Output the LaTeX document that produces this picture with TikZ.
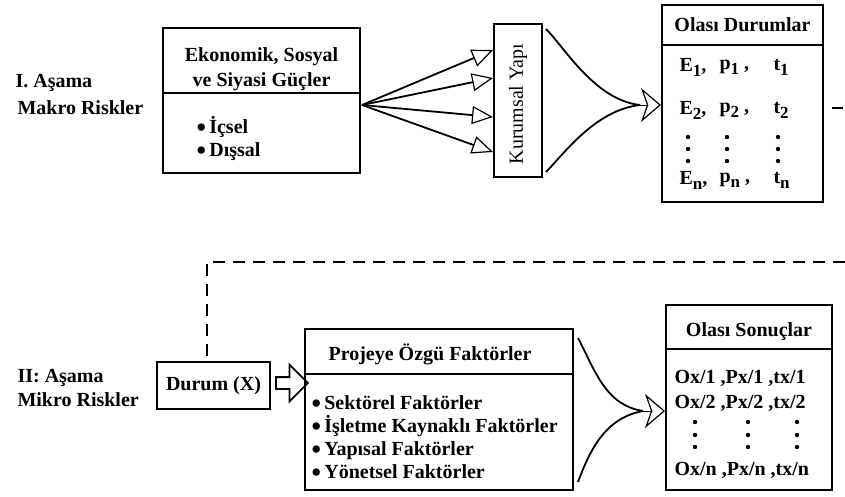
\documentclass[tikz,border=0pt]{standalone}
\usepackage{fontspec}
\setmainfont{Liberation Serif}
\usetikzlibrary{arrows.meta,shapes.arrows}
\newcommand{\mad}{\raisebox{-3.5pt}[0pt][0pt]{\fontsize{27}{23}\selectfont•}}
\newcommand{\asub}[1]{\raisebox{-5pt}{\fontsize{17}{20}\selectfont#1}}
\begin{document}
\begin{tikzpicture}[x=1pt,y=-1pt,font=\fontsize{20}{23}\selectfont\bfseries,
  kutu/.style={draw, line width=2pt, inner sep=0pt},
  ok/.style={line width=1.8pt, -{Triangle[open, length=21pt, width=18pt, line width=1.2pt]}},
  huni/.style={line width=1.8pt},
  uc/.style={-{Stealth[open, length=20pt, width=34pt, inset=6pt, line width=1.2pt]}},
  kesik/.style={line width=2pt, dash pattern=on 12pt off 8pt}]
\useasboundingbox (0,0) rectangle (845,497);

% I. asama
\node (a1) at (12,83)[anchor=west]{I. Aşama};
\node (m1) at (14,108)[anchor=west]{Makro Riskler};
\node (eko) at (261.5,100.5)[kutu, minimum width=197, minimum height=145]{};
\draw[line width=1.2pt] (eko.west |- 0,93)--(eko.east |- 0,93);
\node (ekob) at (261.5,69)[align=center, font=\fontsize{20}{25}\selectfont\bfseries]{Ekonomik, Sosyal\\ve Siyasi Güçler};
\node (ekoi) at (193,138)[anchor=west, align=left]{\mad\,İçsel\\\mad\,Dışsal};

\node (kur) at (518,100.5)[kutu, minimum width=48, minimum height=153]{};
\node (kurt) at (518,104)[rotate=90, font=\fontsize{20}{23}\selectfont]{Kurumsal Yapı};
\coordinate (f0) at (362,105);
\foreach \y in {50,78,117,152}
  \draw[ok] (f0)--(kur.west |- 0,\y);

\coordinate (h1) at (546,29);\coordinate (h2) at (546,172);\coordinate (h0) at (640,105);
\draw[huni] (h1) .. controls (565,48) and (595,100) .. (h0);
\draw[huni] (h2) .. controls (563,155) and (595,110) .. (h0);

\node (dur) at (742.5,103.5)[kutu, minimum width=161, minimum height=197]{};
\draw[line width=1.2pt] (dur.west |- 0,45)--(dur.east |- 0,45);
\node (durb) at (742.5,25){Olası Durumlar};
\draw[uc] (h0)--(h0 -| dur.west);
\foreach \s/\y in {1/67,2/110,n/180}{
  \node (e\s) at (676,\y)[anchor=west]{E\asub{\s},};
  \node (p\s) at (716,\y)[anchor=west]{p\asub{\s} ,};
  \node (t\s) at (770,\y)[anchor=west]{t\asub{\s}};
}
\foreach \x in {688,727,778}
  \foreach \y in {137,149,161}
    \fill (\x,\y) circle (2.2);
\coordinate (d1) at (832,108);\coordinate (d2) at (843,108);
\draw[line width=2pt] (d1)--(d2);

% II. asama
\node (a2) at (14,378)[anchor=west]{II: Aşama};
\node (m2) at (14,400)[anchor=west]{Mikro Riskler};
\node (drm) at (213.5,385.5)[kutu, minimum width=113, minimum height=47]{Durum (X)};
\coordinate (k0) at (845,262);\coordinate (k1) at (207,262);
\draw[kesik] (k0)--(k1)--(k1 |- drm.north);
\node (blok) at (289,383)[draw, line width=1.8pt, fill=white, single arrow, minimum height=32,
  single arrow head extend=12.5pt, inner sep=5pt]{};

\node (pro) at (439,409.5)[kutu, minimum width=268, minimum height=161]{};
\draw[line width=1.2pt] (pro.west |- 0,374)--(pro.east |- 0,374);
\node (prob) at (430,354){Projeye Özgü Faktörler};
\node (proi) at (308,437)[anchor=west, align=left]{\mad\,Sektörel Faktörler\\\mad\,İşletme Kaynaklı Faktörler\\\mad\,Yapısal Faktörler\\\mad\,Yönetsel Faktörler};

\coordinate (g1) at (578,338);\coordinate (g2) at (578,482);\coordinate (g0) at (643,411);
\draw[huni] (g1) .. controls (595,370) and (605,405) .. (g0);
\draw[huni] (g2) .. controls (590,450) and (605,418) .. (g0);

\node (son) at (749,397.5)[kutu, minimum width=166, minimum height=185]{};
\draw[line width=1.2pt] (son.west |- 0,349)--(son.east |- 0,349);
\node (sonb) at (749,332){Olası Sonuçlar};
\draw[uc] (g0)--(g0 -| son.west);
\foreach \s/\y in {1/378,2/403,n/470}
  \node (o\s) at (671,\y)[anchor=west]{Ox/\s\ ,Px/\s\ ,tx/\s};
\foreach \x in {695,748,797}
  \foreach \y in {422,435,447}
    \fill (\x,\y) circle (2.2);
\end{tikzpicture}
\end{document}
